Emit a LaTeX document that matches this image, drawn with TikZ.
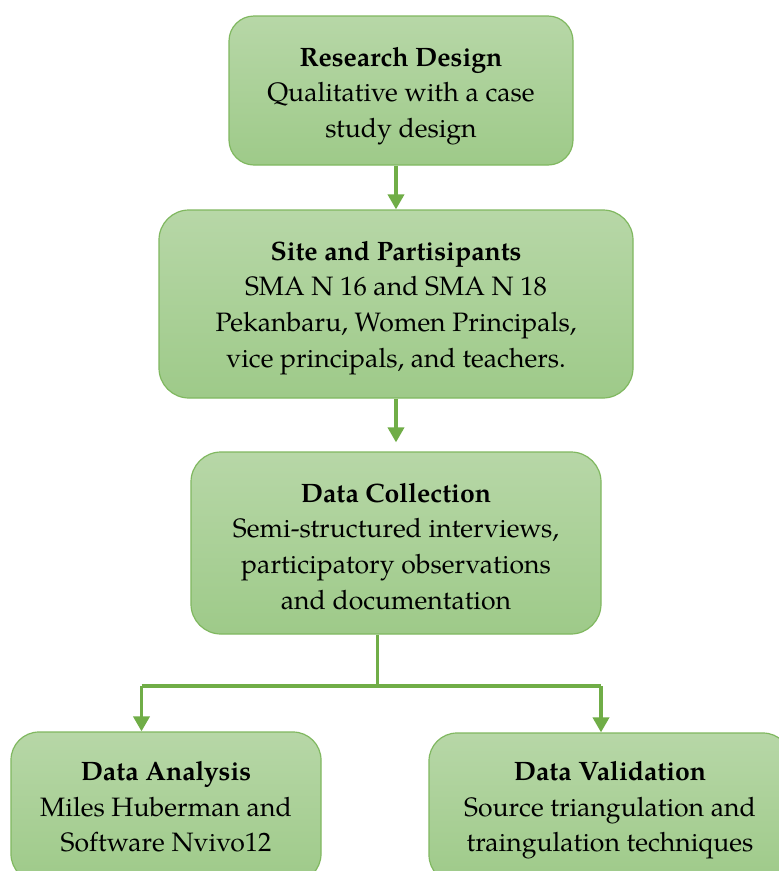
\documentclass[tikz,border=0pt]{standalone}
\usepackage{fontspec}
\setmainfont{TeX Gyre Pagella}
\usetikzlibrary{arrows.meta,calc}

\definecolor{boxtop}{RGB}{183,215,167}
\definecolor{boxbot}{RGB}{158,202,137}
\definecolor{boxline}{RGB}{128,184,96}
\definecolor{linkgreen}{RGB}{112,173,71}

% taller first line lowers the text block inside its box
\newcommand\headstrut[1]{\rule{0pt}{#1}}

\tikzset{
  stage/.style={rectangle, rounded corners=#1, draw=boxline, line width=1.2pt,
    top color=boxtop, bottom color=boxbot, align=center, inner sep=0pt,
    font=\fontsize{26.6}{35.6}\selectfont, text=black},
  link/.style={draw=linkgreen, line width=3.6pt},
  flow/.style={link, -{Triangle[length=15pt,width=16pt]}},
}

\begin{document}
\begin{tikzpicture}[x=1pt, y=-1pt]
  \useasboundingbox (0,0) rectangle (779,871);
  \clip (0,0) rectangle (779,871);
  \fill[white] (0,0) rectangle (779,871);

  % process stages
  \node[stage=25pt, minimum width=344pt, minimum height=149pt] (design) at (401,90.5)
    {\headstrut{30pt}\textbf{Research Design}\\Qualitative with a case\\study design};
  \node[stage=30pt, minimum width=474pt, minimum height=188pt] (site) at (396,304)
    {\headstrut{27pt}\textbf{Site and Partisipants}\\SMA N 16 and SMA N 18\\Pekanbaru, Women Principals,\\vice principals, and teachers.};
  \node[stage=30pt, minimum width=410pt, minimum height=182pt] (collect) at (396,543)
    {\headstrut{26pt}\textbf{Data Collection}\\Semi-structured interviews,\\participatory observations\\and documentation};
  \node[stage=28pt, minimum width=310pt, minimum height=150pt] (analysis) at (166,807)
    {\textbf{Data Analysis}\\Miles Huberman and\\Software Nvivo12};
  \node[stage=28pt, minimum width=362pt, minimum height=150pt] (valid) at (610,808)
    {\headstrut{24pt}\textbf{Data Validation}\\Source triangulation and\\traingulation techniques};

  % branching points
  \coordinate (split) at (377.5,686);
  \coordinate (leftturn) at (141.5,686);
  \coordinate (rightturn) at (601,686);

  % connectors
  \draw[flow] (design.south -| 396,0) -- (site.north -| 396,0);
  \draw[flow, shorten >=9pt] (site.south -| 396,0) -- (collect.north -| 396,0);
  \draw[link] (collect.south -| split) -- (split);
  \draw[link] (leftturn) -- (rightturn);
  \draw[flow] (leftturn) -- (analysis.north -| leftturn);
  \draw[flow] (rightturn) -- (valid.north -| rightturn);
\end{tikzpicture}
\end{document}
